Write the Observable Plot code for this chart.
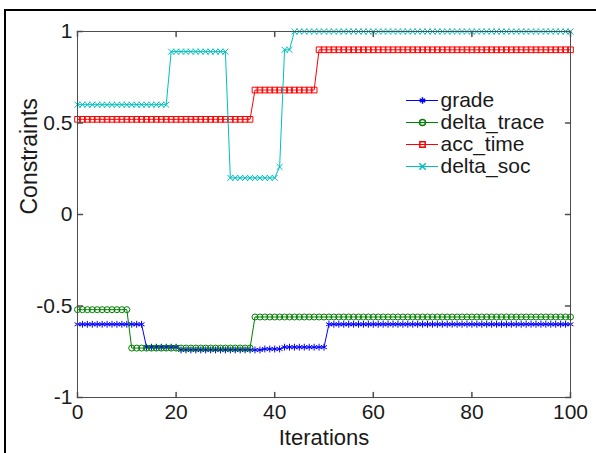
<!DOCTYPE html>
<html><head><meta charset="utf-8">
<script src="https://cdn.jsdelivr.net/npm/d3@7"></script>
<script src="https://cdn.jsdelivr.net/npm/@observablehq/plot@0.6"></script>
<style>
body{margin:0;background:#fff;}
#wrap{position:relative;width:596px;height:453px;overflow:hidden;font-family:"Liberation Sans",Arial,sans-serif;background:#fff;}
#wrap > svg{position:absolute;left:0;top:0;}
#border{position:absolute;left:4px;top:9px;right:-10px;bottom:-10px;border-left:2px solid #000;border-top:2px solid #000;pointer-events:none;}
#legend{position:absolute;left:400px;top:73px;}
</style></head><body>
<div id="wrap"><div id="border"></div><div id="legend"></div></div>
<script>
const iterations = [0,1,2,3,4,5,6,7,8,9,10,11,12,13,14,15,16,17,18,19,20,21,22,23,24,25,26,27,28,29,30,31,32,33,34,35,36,37,38,39,40,41,42,43,44,45,46,47,48,49,50,51,52,53,54,55,56,57,58,59,60,61,62,63,64,65,66,67,68,69,70,71,72,73,74,75,76,77,78,79,80,81,82,83,84,85,86,87,88,89,90,91,92,93,94,95,96,97,98,99,100];

const grade = [
-0.6,-0.6,-0.6,-0.6,-0.6,-0.6,-0.6,-0.6,-0.6,-0.6,
-0.6,-0.6,-0.6,-0.6,-0.725,-0.725,-0.725,-0.725,-0.725,-0.725,
-0.725,-0.74,-0.74,-0.74,-0.74,-0.74,-0.74,-0.74,-0.74,-0.74,
-0.74,-0.74,-0.74,-0.74,-0.74,-0.74,-0.74,-0.74,-0.735,-0.735,
-0.735,-0.735,-0.725,-0.725,-0.725,-0.725,-0.725,-0.725,-0.725,-0.725,
-0.725,-0.6,-0.6,-0.6,-0.6,-0.6,-0.6,-0.6,-0.6,-0.6,
-0.6,-0.6,-0.6,-0.6,-0.6,-0.6,-0.6,-0.6,-0.6,-0.6,
-0.6,-0.6,-0.6,-0.6,-0.6,-0.6,-0.6,-0.6,-0.6,-0.6,
-0.6,-0.6,-0.6,-0.6,-0.6,-0.6,-0.6,-0.6,-0.6,-0.6,
-0.6,-0.6,-0.6,-0.6,-0.6,-0.6,-0.6,-0.6,-0.6,-0.6,
-0.6];

const deltaTrace = [
-0.52,-0.52,-0.52,-0.52,-0.52,-0.52,-0.52,-0.52,-0.52,-0.52,
-0.52,-0.73,-0.73,-0.73,-0.73,-0.73,-0.73,-0.73,-0.73,-0.73,
-0.73,-0.73,-0.73,-0.73,-0.73,-0.73,-0.73,-0.73,-0.73,-0.73,
-0.73,-0.73,-0.73,-0.73,-0.73,-0.73,-0.56,-0.56,-0.56,-0.56,
-0.56,-0.56,-0.56,-0.56,-0.56,-0.56,-0.56,-0.56,-0.56,-0.56,
-0.56,-0.56,-0.56,-0.56,-0.56,-0.56,-0.56,-0.56,-0.56,-0.56,
-0.56,-0.56,-0.56,-0.56,-0.56,-0.56,-0.56,-0.56,-0.56,-0.56,
-0.56,-0.56,-0.56,-0.56,-0.56,-0.56,-0.56,-0.56,-0.56,-0.56,
-0.56,-0.56,-0.56,-0.56,-0.56,-0.56,-0.56,-0.56,-0.56,-0.56,
-0.56,-0.56,-0.56,-0.56,-0.56,-0.56,-0.56,-0.56,-0.56,-0.56,
-0.56];

const accTime = [
0.52,0.52,0.52,0.52,0.52,0.52,0.52,0.52,0.52,0.52,
0.52,0.52,0.52,0.52,0.52,0.52,0.52,0.52,0.52,0.52,
0.52,0.52,0.52,0.52,0.52,0.52,0.52,0.52,0.52,0.52,
0.52,0.52,0.52,0.52,0.52,0.52,0.68,0.68,0.68,0.68,
0.68,0.68,0.68,0.68,0.68,0.68,0.68,0.68,0.68,0.9,
0.9,0.9,0.9,0.9,0.9,0.9,0.9,0.9,0.9,0.9,
0.9,0.9,0.9,0.9,0.9,0.9,0.9,0.9,0.9,0.9,
0.9,0.9,0.9,0.9,0.9,0.9,0.9,0.9,0.9,0.9,
0.9,0.9,0.9,0.9,0.9,0.9,0.9,0.9,0.9,0.9,
0.9,0.9,0.9,0.9,0.9,0.9,0.9,0.9,0.9,0.9,
0.9];

const deltaSoc = [
0.6,0.6,0.6,0.6,0.6,0.6,0.6,0.6,0.6,0.6,
0.6,0.6,0.6,0.6,0.6,0.6,0.6,0.6,0.6,0.89,
0.89,0.89,0.89,0.89,0.89,0.89,0.89,0.89,0.89,0.89,
0.89,0.2,0.2,0.2,0.2,0.2,0.2,0.2,0.2,0.2,
0.2,0.26,0.9,0.9,1,1,1,1,1,1,
1,1,1,1,1,1,1,1,1,1,
1,1,1,1,1,1,1,1,1,1,
1,1,1,1,1,1,1,1,1,1,
1,1,1,1,1,1,1,1,1,1,
1,1,1,1,1,1,1,1,1,1,
1];

const seriesNames = ["grade", "delta_trace", "acc_time", "delta_soc"];
const seriesColors = ["#0000ff", "#008000", "#ff0000", "#00bfbf"];
const seriesSymbols = ["asterisk", "circle", "square", "times"];
const seriesValues = [grade, deltaTrace, accTime, deltaSoc];

const xTicks = [0, 20, 40, 60, 80, 100];
const xTickLabels = ["0", "20", "40", "60", "80", "100"];
const yTicks = [-1, -0.5, 0, 0.5, 1];
const yTickLabels = ["-1", "-0.5", "0", "0.5", "1"];
const xLabel = "Iterations";
const yLabel = "Constraints";

const tickShape = {draw(ctx, l) { ctx.moveTo(0, 0); ctx.lineTo(0, -l); }};
const axisColor = "#4d4d4d";
const textColor = "#1a1a1a";
const symR = {asterisk: 3.2, circle: 3, square: 3.2, times: 2.8};

const seriesMarks = seriesValues.flatMap((vals, i) => [
  Plot.line(vals, {x: iterations, y: vals, stroke: seriesColors[i], strokeWidth: 1}),
  Plot.dot(vals, {x: iterations, y: vals, stroke: seriesColors[i], symbol: seriesSymbols[i], r: symR[seriesSymbols[i]], strokeWidth: 1, fill: "none"})
]);

const chart = Plot.plot({
  width: 596, height: 453,
  marginLeft: 77, marginRight: 26, marginTop: 31, marginBottom: 56,
  style: {fontFamily: '"Liberation Sans", Arial, sans-serif', fontSize: "21px", color: textColor, background: "transparent"},
  x: {domain: [0, 100]},
  y: {domain: [-1, 1]},
  marks: [
    ...seriesMarks,
    Plot.frame({stroke: axisColor, strokeWidth: 1}),
    Plot.vector(xTicks, {x: d => d, frameAnchor: "bottom", anchor: "start", length: 5, rotate: 0, shape: tickShape, stroke: axisColor}),
    Plot.vector(xTicks, {x: d => d, frameAnchor: "top", anchor: "start", length: 5, rotate: 180, shape: tickShape, stroke: axisColor}),
    Plot.vector(yTicks, {y: d => d, frameAnchor: "left", anchor: "start", length: 5, rotate: 90, shape: tickShape, stroke: axisColor}),
    Plot.vector(yTicks, {y: d => d, frameAnchor: "right", anchor: "start", length: 5, rotate: 270, shape: tickShape, stroke: axisColor}),
    Plot.axisX(xTicks, {tickSize: 0, tickPadding: 7, tickFormat: d => xTickLabels[xTicks.indexOf(d)], label: null, fill: textColor}),
    Plot.axisY(yTicks, {tickSize: 0, tickPadding: 5, tickFormat: d => yTickLabels[yTicks.indexOf(d)], label: null, fill: textColor}),
    Plot.text([xLabel], {text: d => d, frameAnchor: "bottom", dy: 32, lineAnchor: "top", fontSize: 22, fill: textColor}),
    Plot.text([yLabel], {text: d => d, frameAnchor: "left", dx: -48, rotate: -90, lineAnchor: "middle", fontSize: 23, fill: textColor})
  ]
});
document.getElementById("wrap").insertBefore(chart, document.getElementById("border"));

const legend = Plot.plot({
  width: 190, height: 120, margin: 0,
  style: {fontFamily: '"Liberation Sans", Arial, sans-serif', fontSize: "21px", color: textColor, background: "transparent"},
  x: {domain: [0, 1], range: [6, 38], axis: null},
  y: {domain: seriesNames, type: "point", range: [15, 104], axis: null},
  marks: [
    Plot.ruleY(seriesNames, {y: d => d, x1: 0, x2: 1, stroke: (d, i) => seriesColors[i], strokeWidth: 1}),
    Plot.dot(seriesNames, {x: 0.5, y: d => d, stroke: (d, i) => seriesColors[i], symbol: (d, i) => seriesSymbols[i], r: 3, fill: "none"}),
    Plot.text(seriesNames, {x: 1, y: d => d, text: d => d, textAnchor: "start", dx: 2, fill: textColor})
  ]
});
document.getElementById("legend").appendChild(legend);
</script>
</body></html>
